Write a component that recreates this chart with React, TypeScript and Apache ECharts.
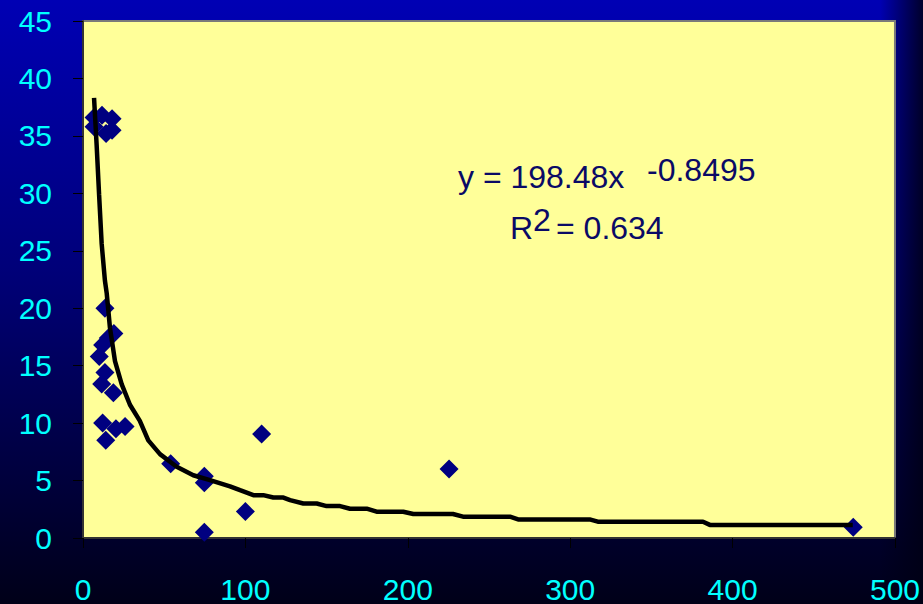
import React, { useEffect, useRef } from "react";
import * as echarts from "echarts";

const pointX = [6.8, 6.8, 11.7, 17.9, 17.9, 14.2, 13.5, 19, 15.6, 12.1, 10, 13.5, 11.5, 18.7, 12.1, 20.3, 25.9, 14, 54, 74.7, 74.7, 110, 100, 74.7, 225.4, 474.3];
const pointY = [36.6, 35.8, 36.8, 36.5, 35.5, 35.2, 20.0, 17.8, 17.4, 16.8, 15.8, 14.4, 13.4, 12.65, 10.0, 9.5, 9.7, 8.5, 6.46, 5.37, 4.8, 9.05, 2.3, 0.5, 6.0, 0.93];

const trendX = [6.8, 8.4, 9.9, 11.5, 13.5, 14.6, 16.6, 19.7, 23.8, 28.9, 35, 40.2, 47.4, 57.7, 67.9, 78.2, 90.5, 96.7, 104.9, 111, 117.2, 123.4, 127.5, 135.7, 143.9, 150, 158.3, 164.4, 174.7, 180.8, 197.2, 203.4, 227.8, 234, 262.9, 267.9, 312, 317, 381.8, 386, 474];
const trendY = [38.3, 34.2, 29.9, 25.6, 22.4, 21.3, 18.3, 15.4, 13.4, 11.6, 10.2, 8.5, 7.3, 6.2, 5.46, 5.03, 4.5, 4.16, 3.73, 3.73, 3.52, 3.52, 3.3, 3.0, 3.0, 2.78, 2.78, 2.55, 2.55, 2.29, 2.29, 2.09, 2.09, 1.86, 1.86, 1.62, 1.62, 1.42, 1.42, 1.14, 1.14];

const xTicks = [0, 100, 200, 300, 400, 500];
const yTicks = [0, 5, 10, 15, 20, 25, 30, 35, 40, 45];

const equationMain = "y = 198.48x";
const equationExp = "-0.8495";
const rLabel = "R";
const rSup = "2";
const rValue = "= 0.634";

export default function App() {
  const ref = useRef<HTMLDivElement>(null);
  useEffect(() => {
    document.body.style.margin = "0";
    const chart = echarts.init(ref.current!, null, { renderer: "svg" });
    const font = "'Liberation Sans', Arial, sans-serif";
    const textColor = "#0a0a66";
    chart.setOption({
      animation: false,
      backgroundColor: {
        type: "linear", x: 0, y: 0, x2: 0, y2: 1,
        colorStops: [
          { offset: 0, color: "#0000b4" },
          { offset: 0.45, color: "#000078" },
          { offset: 1, color: "#000018" },
        ],
      },
      grid: {
        left: 83, right: 28, top: 21, bottom: 61,
        show: true, backgroundColor: "#ffff99", borderColor: "#7a7a7a", borderWidth: 2,
      },
      xAxis: {
        type: "value", min: xTicks[0], max: xTicks[xTicks.length - 1], interval: 100,
        axisLine: { show: true, lineStyle: { color: "#333", width: 2 } },
        axisTick: { show: true, inside: false, length: 10, lineStyle: { color: "#000", width: 1 } },
        axisLabel: { color: "#00ffff", fontSize: 30, fontFamily: font, margin: 36 },
        splitLine: { show: false },
      },
      yAxis: {
        type: "value", min: yTicks[0], max: yTicks[yTicks.length - 1], interval: 5,
        axisLine: { show: true, lineStyle: { color: "#333", width: 2 } },
        axisTick: { show: true, inside: false, length: 10, lineStyle: { color: "#000", width: 1 } },
        axisLabel: { color: "#00ffff", fontSize: 30, fontFamily: font, margin: 31 },
        splitLine: { show: false },
      },
      series: [
        {
          type: "scatter",
          symbol: "diamond",
          symbolSize: 19,
          itemStyle: { color: "#000080", opacity: 1 },
          data: pointX.map((x, i) => [x, pointY[i]]),
          z: 2,
        },
        {
          type: "line",
          showSymbol: false,
          symbol: "none",
          lineStyle: { color: "#000", width: 4.5 },
          data: trendX.map((x, i) => [x, trendY[i]]),
          z: 3,
        },
      ],
      graphic: [
        {
          type: "rect", left: 880, top: 0, z: -1, silent: true,
          shape: { width: 43, height: 604 },
          style: {
            fill: {
              type: "linear", x: 0, y: 0, x2: 1, y2: 0,
              colorStops: [
                { offset: 0, color: "rgba(0,0,20,0)" },
                { offset: 1, color: "rgba(0,0,20,0.85)" },
              ],
            },
          },
        },
        { type: "text", x: 458, y: 177, style: { text: equationMain, fill: textColor, font: `32px ${font}`, textVerticalAlign: "middle" }, z: 10 },
        { type: "text", x: 647, y: 170, style: { text: equationExp, fill: textColor, font: `32px ${font}`, textVerticalAlign: "middle" }, z: 10 },
        { type: "text", x: 510, y: 228, style: { text: rLabel, fill: textColor, font: `32px ${font}`, textVerticalAlign: "middle" }, z: 10 },
        { type: "text", x: 533, y: 220, style: { text: rSup, fill: textColor, font: `32px ${font}`, textVerticalAlign: "middle" }, z: 10 },
        { type: "text", x: 556, y: 228, style: { text: rValue, fill: textColor, font: `32px ${font}`, textVerticalAlign: "middle" }, z: 10 },
      ],
    });
    return () => chart.dispose();
  }, []);
  return <div ref={ref} style={{ position: "absolute", left: 0, top: 0, width: 923, height: 604 }} />;
}
